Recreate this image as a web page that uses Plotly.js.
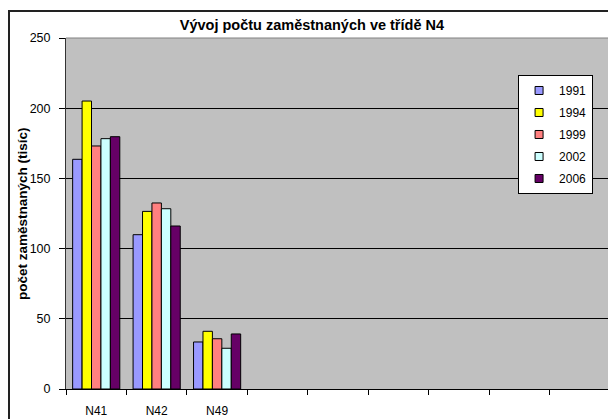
<!DOCTYPE html>
<html>
<head>
<meta charset="utf-8">
<script src="https://cdn.plot.ly/plotly-3.0.1.min.js"></script>
<style>
html,body{margin:0;padding:0;overflow:hidden;background:#fff;}
#chart{width:620px;height:419px;}
</style>
</head>
<body>
<div id="chart"></div>
<script>
var categories = ['N41', 'N42', 'N49'];
var allCategories = ['N41', 'N42', 'N49', ' ', '  ', '   ', '    ', '     ', '      '];
var years = ['1991', '1994', '1999', '2002', '2006'];
var colors = ['#9999FF', '#FFFF00', '#FF8080', '#CCFFFF', '#660066'];
var v1991 = [163.6, 109.9, 33.5];
var v1994 = [205.1, 126.5, 41.1];
var v1999 = [173.1, 132.5, 35.8];
var v2002 = [178.3, 128.4, 29.0];
var v2006 = [179.7, 116.1, 39.2];
var series = [v1991, v1994, v1999, v2002, v2006];

var traces = [];
series.forEach(function (vals, i) {
  traces.push({
    type: 'bar', x: categories, y: vals, name: years[i],
    marker: {color: colors[i], line: {color: '#000', width: 1}},
    showlegend: false, hoverinfo: 'x+y+name'
  });
});
series.forEach(function (vals, i) {
  traces.push({
    type: 'scatter', mode: 'markers', x: [null], y: [null], name: years[i],
    legendgroup: 'g' + i,
    marker: {symbol: 'square', size: 8, color: colors[i], line: {color: '#000', width: 1}}
  });
});

var font = 'Liberation Sans, Arial, sans-serif';
var layout = {
  width: 620, height: 419,
  margin: {l: 66, r: 10, t: 38, b: 30},
  paper_bgcolor: '#fff',
  plot_bgcolor: '#C0C0C0',
  font: {family: font, size: 12, color: '#000'},
  barmode: 'group', bargap: 0.22, bargroupgap: 0,
  title: {text: '<b>Vývoj počtu zaměstnaných ve třídě N4</b>', font: {family: font, size: 14.5, color: '#000'},
          xref: 'paper', x: 0.452, xanchor: 'center', yref: 'container', y: 0.94, yanchor: 'middle'},
  xaxis: {
    type: 'category', categoryorder: 'array', categoryarray: allCategories,
    range: [-0.5, 8.5], tickson: 'boundaries', ticks: 'outside', ticklen: 5, tickcolor: '#000',
    showline: true, linecolor: '#000', linewidth: 1, showgrid: false, zeroline: false,
    tickfont: {family: font, size: 12, color: '#000'}, ticklabelstandoff: 11, fixedrange: true
  },
  yaxis: {
    range: [0, 250], tickvals: [0, 50, 100, 150, 200, 250], ticks: 'outside', ticklen: 6, tickcolor: '#000',
    showline: true, linecolor: '#333', linewidth: 1, showgrid: true, gridcolor: '#000', gridwidth: 1,
    zeroline: false, tickfont: {family: font, size: 12.5, color: '#000'}, ticklabelstandoff: 6,
    fixedrange: true
  },
  legend: {
    x: 0.831, y: 0.8946, xanchor: 'left', yanchor: 'top',
    bgcolor: '#fff', bordercolor: '#000', borderwidth: 1,
    font: {family: font, size: 12, color: '#000'},
    traceorder: 'grouped', tracegroupgap: 3, itemwidth: 30
  },
  annotations: [
    {text: '<b>počet zaměstnaných (tisíc)</b>', xref: 'paper', yref: 'paper', x: -0.08, y: 0.5,
     xanchor: 'center', yanchor: 'middle', textangle: -90, showarrow: false,
     font: {family: font, size: 13.5, color: '#000'}},
    {text: ' ', xref: 'paper', yref: 'paper', x: -0.1066, y: 1.0798, xanchor: 'left', yanchor: 'top',
     width: 640, height: 460, borderpad: 0, bordercolor: '#222', borderwidth: 2, showarrow: false,
     bgcolor: 'rgba(0,0,0,0)'}
  ],
  shapes: [
    {type: 'line', xref: 'paper', yref: 'paper', x0: 0, x1: 1, y0: 1, y1: 1, line: {color: '#808080', width: 1}, layer: 'above'}
  ]
};
Plotly.newPlot('chart', traces, layout, {displayModeBar: false, staticPlot: true});
</script>
</body>
</html>
